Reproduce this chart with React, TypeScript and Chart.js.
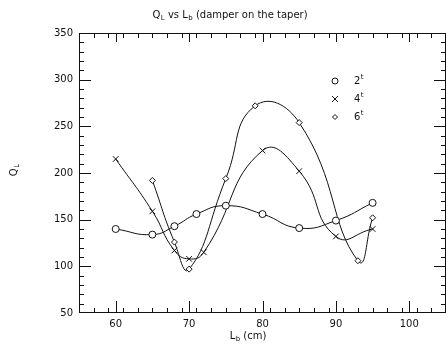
import { useEffect, useRef } from 'react';
import { Chart, registerables } from 'chart.js';
Chart.register(...registerables);

// ---- data ----
const lb2 = [60, 65, 68, 71, 75, 80, 85, 90, 95];
const ql2 = [140, 134, 143, 156, 165, 156, 141, 149, 168];
const lb4 = [60, 65, 68, 70, 72, 80, 85, 90, 95];
const ql4 = [215, 159, 117, 108, 115, 224, 202, 132, 140];
const lb6 = [65, 68, 70, 75, 79, 85, 93, 95];
const ql6 = [192, 126, 97, 194, 272, 254, 106, 152];

const seriesNames = ['2', '4', '6'];
const seriesSup = 't';
const xTickValues = [60, 70, 80, 90, 100];
const yTickValues = [50, 100, 150, 200, 250, 300, 350];
const xMinorStep = 2;
const yMinorStep = 10;

const FONT = '"DejaVu Sans", sans-serif';
const INK = '#111';

type Part = { t: string; sub?: boolean; sup?: boolean };

function drawRich(ctx: CanvasRenderingContext2D, parts: Part[], x: number, y: number, align: 'center' | 'left') {
  const fontFor = (p: Part) => `${p.sub || p.sup ? 7 : 10}px ${FONT}`;
  let total = 0;
  for (const p of parts) {
    ctx.font = fontFor(p);
    total += ctx.measureText(p.t).width + (p.sub || p.sup ? 0.5 : 0);
  }
  let cx = align === 'center' ? x - total / 2 : x;
  ctx.textBaseline = 'middle';
  ctx.textAlign = 'left';
  for (const p of parts) {
    ctx.font = fontFor(p);
    const dy = p.sub ? 3 : p.sup ? -4 : 0;
    ctx.fillText(p.t, cx + (p.sub || p.sup ? 0.5 : 0), y + dy);
    cx += ctx.measureText(p.t).width + (p.sub || p.sup ? 0.5 : 0);
  }
}

function drawSymbol(ctx: CanvasRenderingContext2D, style: string, x: number, y: number, r: number) {
  ctx.beginPath();
  if (style === 'circle') {
    ctx.arc(x, y, r, 0, Math.PI * 2);
  } else if (style === 'crossRot') {
    ctx.moveTo(x - r, y - r); ctx.lineTo(x + r, y + r);
    ctx.moveTo(x + r, y - r); ctx.lineTo(x - r, y + r);
  } else {
    ctx.moveTo(x, y - r); ctx.lineTo(x + r, y); ctx.lineTo(x, y + r); ctx.lineTo(x - r, y); ctx.closePath();
  }
  ctx.stroke();
}

const decorPlugin = {
  id: 'decor',
  afterDraw(chart: any) {
    const ctx: CanvasRenderingContext2D = chart.ctx;
    const ca = chart.chartArea;
    const L = Math.round(ca.left), R = Math.round(ca.right) - 1, T = Math.round(ca.top), B = Math.round(ca.bottom) - 1;
    const xs = chart.scales.x;
    const ys = chart.scales.y;
    ctx.save();
    ctx.fillStyle = INK;
    // frame (1px rows/columns)
    ctx.fillRect(L, T, R - L + 1, 1);
    ctx.fillRect(L, B, R - L + 1, 1);
    ctx.fillRect(L, T, 1, B - T + 1);
    ctx.fillRect(R, T, 1, B - T + 1);
    // x ticks
    const x0 = Number(xs.min), x1 = Number(xs.max);
    for (let k = 0; x0 + k * xMinorStep <= x1 + 1e-6; k++) {
      const px = Math.round(xs.getPixelForValue(x0 + k * xMinorStep));
      ctx.fillRect(px, B - 4, 1, 4);
      ctx.fillRect(px, T + 1, 1, 4);
    }
    for (const v of xTickValues) {
      const px = Math.round(xs.getPixelForValue(v));
      ctx.fillRect(px, B - 11, 1, 11);
      ctx.fillRect(px, T + 1, 1, 8);
    }
    // y ticks
    const y0 = Number(ys.min), y1 = Number(ys.max);
    for (let k = 0; y0 + k * yMinorStep <= y1 + 1e-6; k++) {
      const py = Math.min(B, Math.round(ys.getPixelForValue(y0 + k * yMinorStep)));
      ctx.fillRect(L + 1, py, 4, 1);
      ctx.fillRect(R - 4, py, 4, 1);
    }
    for (const v of yTickValues) {
      const py = Math.min(B, Math.round(ys.getPixelForValue(v)));
      ctx.fillRect(L + 1, py, 11, 1);
      ctx.fillRect(R - 11, py, 11, 1);
    }
    // titles
    drawRich(ctx, [{ t: 'Q' }, { t: 'L', sub: true }, { t: ' vs L' }, { t: 'b', sub: true }, { t: ' (damper on the taper)' }], 230, 15, 'center');
    drawRich(ctx, [{ t: 'L' }, { t: 'b', sub: true }, { t: ' (cm)' }], 248, 336, 'center');
    ctx.save();
    ctx.translate(14, 170);
    ctx.rotate(-Math.PI / 2);
    drawRich(ctx, [{ t: 'Q' }, { t: 'L', sub: true }], 0, 0, 'center');
    ctx.restore();
    // legend
    ctx.strokeStyle = INK;
    ctx.lineWidth = 1;
    chart.data.datasets.forEach((ds: any, i: number) => {
      const y = 81 + i * 18;
      drawSymbol(ctx, ds.pointStyle, 335, y, ds.pointStyle === 'rectRot' ? 2.5 : 3);
      drawRich(ctx, [{ t: seriesNames[i] }, { t: seriesSup, sup: true }], 354, y, 'left');
    });
    ctx.restore();
  },
};

function mk(label: string, xs: number[], ys: number[], style: string, r: number) {
  return {
    label,
    data: xs.map((x, i) => ({ x, y: ys[i] })),
    borderColor: INK,
    borderWidth: 1,
    backgroundColor: 'rgba(0,0,0,0)',
    pointStyle: style,
    pointRadius: r,
    pointBorderColor: INK,
    pointBackgroundColor: '#fff',
    pointBorderWidth: 1,
    tension: 0.5,
    fill: false,
  };
}

export default function App() {
  const ref = useRef<HTMLCanvasElement | null>(null);
  useEffect(() => {
    if (!ref.current) return;
    const chart = new Chart(ref.current, {
      type: 'line',
      data: {
        datasets: [
          mk(seriesNames[0] + seriesSup, lb2, ql2, 'circle', 3.5),
          mk(seriesNames[1] + seriesSup, lb4, ql4, 'crossRot', 4),
          mk(seriesNames[2] + seriesSup, lb6, ql6, 'rectRot', 3),
        ] as any,
      },
      options: {
        animation: false,
        responsive: false,
        layout: { autoPadding: false, padding: { top: 33, left: 0, right: 0, bottom: 0 } },
        plugins: { legend: { display: false }, title: { display: false }, tooltip: { enabled: false } },
        scales: {
          x: {
            type: 'linear',
            min: 55,
            max: 105,
            grid: { display: false, drawTicks: false, tickLength: 0 },
            border: { display: false },
            ticks: { padding: 5, color: INK, font: { family: FONT, size: 10 }, maxRotation: 0 },
            afterBuildTicks: (s: any) => { s.ticks = xTickValues.map((v) => ({ value: v })); },
            afterFit: (s: any) => { s.height = 33; s.paddingLeft = 0; s.paddingRight = 0; },
          },
          y: {
            type: 'linear',
            min: 50,
            max: 350,
            grid: { display: false, drawTicks: false, tickLength: 0 },
            border: { display: false },
            ticks: { padding: 6, color: INK, font: { family: FONT, size: 10 } },
            afterBuildTicks: (s: any) => { s.ticks = yTickValues.map((v) => ({ value: v })); },
            afterFit: (s: any) => { s.width = 79; s.paddingTop = 0; s.paddingBottom = 0; },
          },
        },
      },
      plugins: [decorPlugin],
    });
    return () => chart.destroy();
  }, []);
  return (
    <div style={{ position: 'fixed', left: 0, top: 0, width: 446, height: 346, background: '#fff' }}>
      <canvas ref={ref} width={446} height={346} style={{ width: 446, height: 346, display: 'block' }} />
    </div>
  );
}
